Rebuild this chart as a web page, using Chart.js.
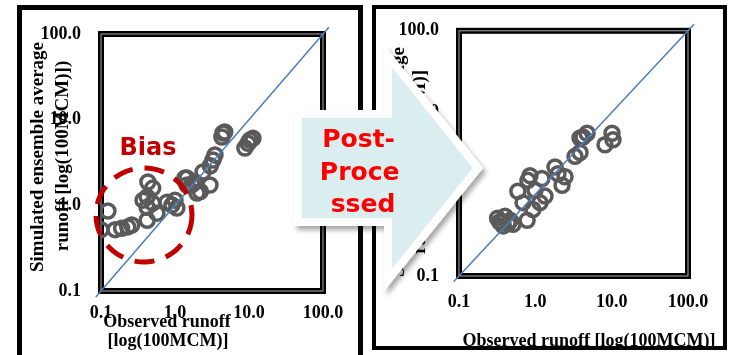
<!DOCTYPE html>
<html>
<head>
<meta charset="utf-8">
<script src="https://cdn.jsdelivr.net/npm/chart.js@4.4.1/dist/chart.umd.min.js"></script>
<style>
  body { margin: 0; width: 730px; height: 355px; overflow: hidden; background: #fff; position: relative; }
  .box { position: absolute; box-sizing: border-box; border: 5px solid #000; background: #fff; }
  canvas { position: absolute; top: 0; }
  .lbl { position: absolute; font: bold 18px 'Liberation Serif', serif; color: #000; white-space: nowrap;
         transform: translate(-50%, -50%); line-height: 1; }
  .rot { transform: translate(-50%, -50%) rotate(-90deg); }
  svg { position: absolute; left: 0; top: 0; }
</style>
</head>
<body>
<div class="box" style="left:17px; top:5px; width:346px; height:365px;"></div>
<div class="box" style="left:372px; top:5px; width:355px; height:345px; border-width:4px;"></div>

<canvas id="before" width="365" height="355" style="left:0"></canvas>
<canvas id="after" width="365" height="355" style="left:365px"></canvas>

<!-- axis titles -->
<div class="lbl rot" style="left:36px; top:157px; font-size:19px;">Simulated ensemble average</div>
<div class="lbl rot" style="left:61px; top:156px; font-size:19px;">runoff [log(100MCM)])</div>
<div class="lbl" style="left:167px; top:321px;">Observed runoff</div>
<div class="lbl" style="left:168px; top:340px;">[log(100MCM)]</div>

<div class="lbl rot" style="left:397px; top:162px; font-size:19px;">Simulated ensemble average</div>
<div class="lbl rot" style="left:418px; top:162px; font-size:19px;">runoff [log(100MCM)]</div>
<div class="lbl" style="left:589px; top:340px;">Observed runoff [log(100MCM)]</div>

<svg width="730" height="355">
  <defs>
    <filter id="shadow" x="-20%" y="-20%" width="140%" height="140%">
      <feDropShadow dx="3" dy="4" stdDeviation="2.5" flood-color="#000" flood-opacity="0.35"/>
    </filter>
  </defs>
  <ellipse cx="144" cy="215" rx="48" ry="47" fill="none" stroke="#c00000" stroke-width="5" stroke-dasharray="20 12"/>
  <text x="148" y="155" text-anchor="middle" font-family="DejaVu Sans" font-weight="bold" font-size="24" fill="#c00000">Bias</text>
  <polygon points="298,114 388,114 388,56 478,168 388,280 388,222 298,222"
           fill="#daedef" stroke="#fff" stroke-width="8" stroke-linejoin="miter" filter="url(#shadow)"/>
  <text text-anchor="middle" font-family="DejaVu Sans" font-weight="bold" font-size="25" fill="#ff0000">
    <tspan x="363" y="147">Post-</tspan>
    <tspan x="364" y="180">Proce</tspan>
    <tspan x="363" y="212">ssed</tspan>
  </text>
</svg>

<script>
// Observed vs simulated runoff (100 MCM), raw ensemble average
const rawObs = [0.1, 0.124, 0.155, 0.19, 0.23, 0.26, 0.42, 0.43, 0.5, 0.37, 0.42, 0.42, 0.5, 0.57,
                0.78, 0.91, 1.06, 1.0, 1.36, 1.45, 1.98, 1.86, 2.97, 2.39, 3.26, 3.47, 4.45, 4.3, 4.7,
                8.8, 10.3, 11.3, 9.7, 1.45, 1.7, 2.2, 3.0];
const rawSim = [0.52, 0.86, 0.52, 0.54, 0.56, 0.59, 0.67, 1.87, 1.59, 1.15, 1.25, 0.95, 1.06, 0.81,
                1.09, 1.01, 0.93, 1.15, 2.08, 1.73, 1.39, 1.87, 1.73, 2.45, 3.38, 3.87, 6.98, 6.27, 7.17,
                4.67, 5.78, 6.06, 5.3, 2.08, 1.75, 1.45, 2.9];

// after post-processing
const postObs = [0.34, 0.40, 0.47, 0.38, 0.51, 0.32, 0.36, 0.44, 0.78, 0.59, 0.80, 0.85, 0.99, 0.93,
                 1.22, 1.34, 1.15, 0.69, 1.81, 2.24, 1.98, 2.45, 3.31, 3.85, 4.22, 4.76, 3.85, 8.18,
                 10.1, 10.4];
const postSim = [0.46, 0.54, 0.48, 0.41, 0.43, 0.51, 0.45, 0.44, 0.48, 1.09, 1.48, 1.69, 1.12, 0.65,
                 1.56, 0.95, 0.79, 0.79, 2.16, 1.29, 1.78, 1.64, 2.91, 3.24, 5.01, 5.58, 4.88, 4.03,
                 5.58, 4.63];

const oneToOne = [0.085, 120];
const tickValues = [0.1, 1, 10, 100];
const tickLabels = ['0.1', '1.0', '10.0', '100.0'];

const tickFont = { family: 'Liberation Serif', size: 18, weight: 'bold' };

// thick double frame round the plot area
const frame = {
  id: 'frame',
  beforeDatasetsDraw(chart) {
    const { ctx, chartArea: a } = chart;
    ctx.save();
    ctx.strokeStyle = '#000';
    ctx.lineWidth = 6;
    ctx.strokeRect(a.left, a.top, a.right - a.left, a.bottom - a.top);
    ctx.strokeStyle = '#aaa';
    ctx.lineWidth = 1;
    ctx.strokeRect(a.left, a.top, a.right - a.left, a.bottom - a.top);
    ctx.restore();
  }
};

function makeChart(id, obs, sim, box) {
  const points = obs.map((x, i) => ({ x: x, y: sim[i] }));
  const diag = oneToOne.map(v => ({ x: v, y: v }));
  return new Chart(document.getElementById(id), {
    type: 'scatter',
    data: {
      datasets: [
        { type: 'line', data: diag, borderColor: '#4a7ebb', borderWidth: 1.5, pointRadius: 0,
          fill: false, clip: false, order: 0 },
        { data: points, pointRadius: 7, pointBorderWidth: 3.5, pointBorderColor: '#5a5a5a',
          pointBackgroundColor: 'rgba(0,0,0,0)', order: 1 }
      ]
    },
    options: {
      responsive: false,
      animation: false,
      events: [],
      layout: { padding: { left: 0, top: box.top, right: box.right, bottom: 0 } },
      plugins: { legend: { display: false }, tooltip: { enabled: false } },
      scales: {
        x: {
          type: 'logarithmic', min: 0.1, max: 100,
          grid: { display: false, drawTicks: false }, border: { display: false },
          afterBuildTicks: a => { a.ticks = tickValues.map(v => ({ value: v })); },
          afterFit: s => { s.height = box.xh; },
          ticks: { callback: (v, i) => tickLabels[i], autoSkip: false, maxRotation: 0,
                   padding: box.xpad, color: '#000', font: tickFont }
        },
        y: {
          type: 'logarithmic', min: 0.1, max: 100,
          grid: { display: false, drawTicks: false }, border: { display: false },
          afterBuildTicks: a => { a.ticks = tickValues.map(v => ({ value: v })); },
          afterFit: s => { s.width = box.yw; },
          ticks: { callback: (v, i) => tickLabels[i], autoSkip: false,
                   padding: 20, color: '#000', font: tickFont }
        }
      }
    },
    plugins: [frame]
  });
}

makeChart('before', rawObs, rawSim, { top: 34, right: 42, xh: 64, yw: 101, xpad: 12 });
makeChart('after', postObs, postSim, { top: 22, right: 42, xh: 79, yw: 94, xpad: 16 });
</script>
</body>
</html>
